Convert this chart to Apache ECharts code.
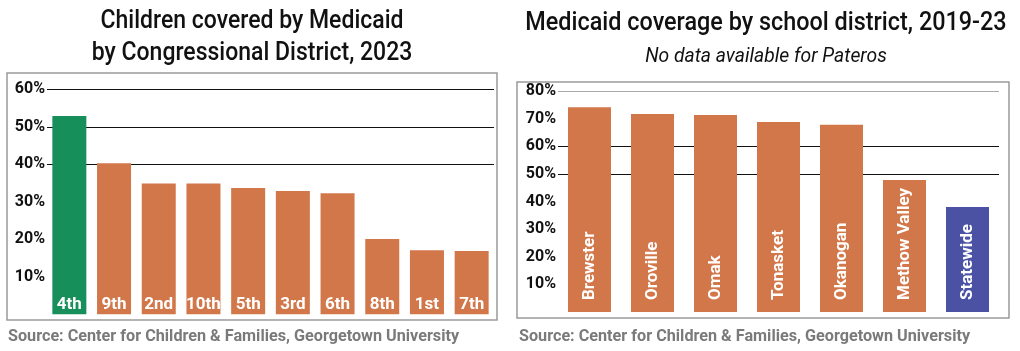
<!DOCTYPE html>
<html>
<head>
<meta charset="utf-8">
<script src="https://cdn.jsdelivr.net/npm/echarts@6/dist/echarts.min.js"></script>
<style>
  html, body { margin: 0; padding: 0; background: #fff; }
  #main { width: 1020px; height: 351px; }
</style>
</head>
<body>
<div id="main"></div>
<script>
// left chart: children covered by Medicaid, by congressional district
const districts = ['4th', '9th', '2nd', '10th', '5th', '3rd', '6th', '8th', '1st', '7th'];
const districtValues = [52.9, 40.3, 34.9, 34.9, 33.7, 32.9, 32.3, 20.1, 17.1, 16.9];
const districtColors = ['#178f5a', '#d2774a', '#d2774a', '#d2774a', '#d2774a', '#d2774a', '#d2774a', '#d2774a', '#d2774a', '#d2774a'];

// right chart: coverage by school district
const schools = ['Brewster', 'Oroville', 'Omak', 'Tonasket', 'Okanogan', 'Methow Valley', 'Statewide'];
const schoolValues = [74.2, 71.7, 71.4, 68.8, 67.8, 47.8, 38.0];
const schoolColors = ['#d2774a', '#d2774a', '#d2774a', '#d2774a', '#d2774a', '#d2774a', '#4b52a3'];

const FONT = 'Roboto, "Open Sans", sans-serif';
const clear = 'rgba(0,0,0,0)';
const SOURCE = 'Source: Center for Children & Families, Georgetown University';

const chart = echarts.init(document.getElementById('main'));

function pctLabel(v) {
  return v === 0 ? '' : v + '%';
}

// titles are squeezed horizontally to mimic the condensed face of the original
function titleText(text, x, y, size, sx, italic) {
  return {
    type: 'text', x: x, y: y, scaleX: sx,
    style: { text: text, fontFamily: FONT, fontSize: size, fontWeight: italic ? 'normal' : 500,
      fontStyle: italic ? 'italic' : 'normal', fill: '#111',
      align: 'center', verticalAlign: 'middle' }
  };
}

const option = {
  animation: false,
  graphic: [
    titleText('Children covered by Medicaid', 252, 21, 26, 0.885),
    titleText('by Congressional District, 2023', 252, 53, 26, 0.885),
    titleText('Medicaid coverage by school district, 2019-23', 766, 23, 26, 0.9),
    titleText('No data available for Pateros', 766, 57, 21, 0.92, true),
    { type: 'rect', shape: { x: 7, y: 73, width: 490, height: 247 },
      style: { fill: 'none', stroke: '#9a9a9a', lineWidth: 1.5 }, z: -1 },
    { type: 'rect', shape: { x: 517, y: 82, width: 492, height: 236 },
      style: { fill: 'none', stroke: '#9a9a9a', lineWidth: 1.5 }, z: -1 },
    { type: 'text', x: 8, y: 337,
      style: { text: SOURCE, fontFamily: FONT, fontSize: 16.2, fontWeight: 'bold',
        fill: '#7a7a7a', verticalAlign: 'middle' } },
    { type: 'text', x: 519, y: 337,
      style: { text: SOURCE, fontFamily: FONT, fontSize: 16.2, fontWeight: 'bold',
        fill: '#7a7a7a', verticalAlign: 'middle' } }
  ],
  grid: [
    { left: 47, width: 447, top: 89.3, height: 225 },
    { left: 558, width: 441, top: 91.2, height: 220.8 }
  ],
  xAxis: [
    { type: 'category', gridIndex: 0, data: districts,
      axisLine: { show: false }, axisTick: { show: false }, axisLabel: { show: false } },
    { type: 'category', gridIndex: 1, data: schools,
      axisLine: { show: false }, axisTick: { show: false }, axisLabel: { show: false } }
  ],
  yAxis: [
    { type: 'value', gridIndex: 0, min: 0, max: 60, interval: 10,
      axisLine: { show: false }, axisTick: { show: false },
      axisLabel: { formatter: pctLabel, margin: 2, color: '#111',
        fontFamily: FONT, fontSize: 16, fontWeight: 'bold' },
      splitLine: { lineStyle: { width: 1.2,
        color: [clear, clear, clear, clear, '#111', '#111', '#111'] } } },
    { type: 'value', gridIndex: 1, min: 0, max: 80, interval: 10,
      axisLine: { show: false }, axisTick: { show: false },
      axisLabel: { formatter: pctLabel, margin: 2, color: '#111',
        fontFamily: FONT, fontSize: 16, fontWeight: 'bold' },
      splitLine: { lineStyle: { width: 1.2,
        color: [clear, clear, clear, clear, clear, '#111', '#111', clear, '#aaa'] } } }
  ],
  series: [
    {
      type: 'bar', xAxisIndex: 0, yAxisIndex: 0, barWidth: 34,
      data: districtValues.map((v, i) => ({ value: v, itemStyle: { color: districtColors[i] } })),
      label: { show: true, position: 'insideBottom', distance: 1, formatter: '{b}',
        color: '#fff', fontFamily: FONT, fontSize: 17, fontWeight: 'bold' }
    },
    {
      type: 'bar', xAxisIndex: 1, yAxisIndex: 1, barWidth: 43,
      data: schoolValues.map((v, i) => ({ value: v, itemStyle: { color: schoolColors[i] } })),
      label: { show: true, position: 'insideBottom', distance: 12, rotate: 90,
        align: 'left', verticalAlign: 'middle', formatter: '{b}',
        color: '#fff', fontFamily: FONT, fontSize: 17, fontWeight: 'bold' }
    }
  ]
};

chart.setOption(option);
</script>
</body>
</html>
